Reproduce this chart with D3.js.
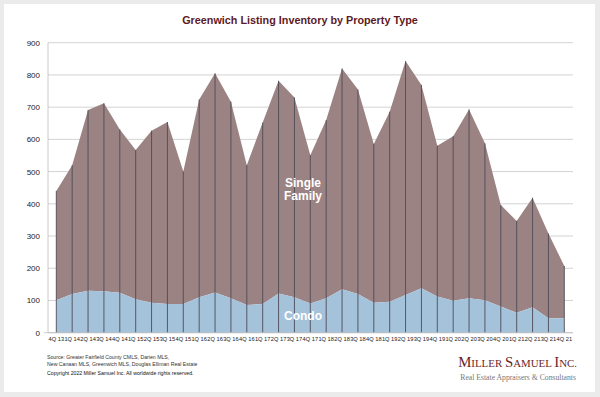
<!DOCTYPE html>
<html>
<head>
<meta charset="utf-8">
<script src="https://cdn.jsdelivr.net/npm/d3@7"></script>
<style>
  body { margin: 0; background: #ebebeb; }
  svg { display: block; font-family: "Liberation Sans", Arial, sans-serif; }
</style>
</head>
<body>
<div id="chart"></div>
<script>
// quarters, 4Q 13 through 4Q 21
var quarters = ["4Q 13","1Q 14","2Q 14","3Q 14","4Q 14","1Q 15","2Q 15","3Q 15","4Q 15",
  "1Q 16","2Q 16","3Q 16","4Q 16","1Q 17","2Q 17","3Q 17","4Q 17",
  "1Q 18","2Q 18","3Q 18","4Q 18","1Q 19","2Q 19","3Q 19","4Q 19",
  "1Q 20","2Q 20","3Q 20","4Q 20","1Q 21","2Q 21","3Q 21","4Q 21"];

// condo listings
var condo = [101,120,130,129,124,104,93,89,89,110,125,107,86,89,122,110,91,
  107,135,120,93,96,117,138,112,99,107,101,81,62,79,45,45];

// total listings (single family stacked on condo)
var total = [440,520,691,712,631,567,627,654,500,724,805,717,520,652,782,730,551,
  660,820,755,586,686,843,769,580,610,693,588,396,347,419,308,207];

var yTicks = [0,100,200,300,400,500,600,700,800,900];

var W = 600, H = 397;
var svg = d3.select("#chart").append("svg")
  .attr("width", W).attr("height", H);

// white panel
svg.append("rect")
  .attr("x", 4).attr("y", 4).attr("width", 591).attr("height", 388)
  .attr("fill", "#fff");

svg.append("text")
  .attr("x", 300).attr("y", 24)
  .attr("text-anchor", "middle")
  .attr("font-size", 10.8).attr("font-weight", "bold")
  .attr("fill", "#5c1a26")
  .text("Greenwich Listing Inventory by Property Type");

var x = d3.scalePoint()
  .domain(quarters)
  .range([56.3, 564.3]);

var y = d3.scaleLinear()
  .domain([0, 900])
  .range([332.7, 42.7]);

// gridlines
svg.append("g")
  .selectAll("line")
  .data(yTicks)
  .enter().append("line")
    .attr("x1", 48).attr("x2", 573)
    .attr("y1", function(d) { return y(d); })
    .attr("y2", function(d) { return y(d); })
    .attr("stroke", "#c8c8c8").attr("stroke-width", 0.8);

// y labels
svg.append("g")
  .selectAll("text")
  .data(yTicks)
  .enter().append("text")
    .attr("x", 40)
    .attr("y", function(d) { return y(d) + 3; })
    .attr("text-anchor", "end")
    .attr("font-size", 8).attr("fill", "#222")
    .text(function(d) { return d; });

var data = quarters.map(function(q, i) {
  return { q: q, condo: condo[i], total: total[i] };
});

var singleArea = d3.area()
  .x(function(d) { return x(d.q); })
  .y0(function(d) { return y(d.condo); })
  .y1(function(d) { return y(d.total); });

var condoArea = d3.area()
  .x(function(d) { return x(d.q); })
  .y0(y(0))
  .y1(function(d) { return y(d.condo); });

svg.append("path").datum(data)
  .attr("d", singleArea)
  .attr("fill", "#9b8283");

svg.append("path").datum(data)
  .attr("d", condoArea)
  .attr("fill", "#a4c2da");

// vertical drop lines at each quarter
svg.append("g")
  .selectAll("line")
  .data(data)
  .enter().append("line")
    .attr("x1", function(d) { return x(d.q); })
    .attr("x2", function(d) { return x(d.q); })
    .attr("y1", y(0))
    .attr("y2", function(d) { return y(d.total); })
    .attr("stroke", "#4e4c58").attr("stroke-width", 0.9);

// axis lines
svg.append("line")
  .attr("x1", 48).attr("x2", 48).attr("y1", y(900)).attr("y2", y(0))
  .attr("stroke", "#bdbdbd").attr("stroke-width", 0.8);
svg.append("line")
  .attr("x1", 44).attr("x2", 573).attr("y1", y(0)).attr("y2", y(0))
  .attr("stroke", "#bdbdbd").attr("stroke-width", 0.8);

// x labels
svg.append("g")
  .selectAll("text")
  .data(quarters)
  .enter().append("text")
    .attr("x", function(d) { return x(d); })
    .attr("y", 341)
    .attr("text-anchor", "middle")
    .attr("font-size", 5.7).attr("fill", "#1a1a1a")
    .text(function(d) { return d; });

// series labels
svg.append("text")
  .attr("x", 303).attr("y", 187)
  .attr("text-anchor", "middle")
  .attr("font-size", 12).attr("font-weight", "bold").attr("fill", "#fff")
  .selectAll("tspan")
  .data(["Single", "Family"])
  .enter().append("tspan")
    .attr("x", 303)
    .attr("dy", function(d, i) { return i ? 12.5 : 0; })
    .text(function(d) { return d; });

svg.append("text")
  .attr("x", 303).attr("y", 320)
  .attr("text-anchor", "middle")
  .attr("font-size", 12).attr("font-weight", "bold").attr("fill", "#fff")
  .text("Condo");

// footer
var foot = svg.append("g").attr("font-size", 5.2).attr("fill", "#333");
foot.append("text").attr("x", 47).attr("y", 358.5)
  .text("Source:  Greater Fairfield County CMLS, Darien MLS,");
foot.append("text").attr("x", 47).attr("y", 365.5)
  .text("New Canaan MLS, Greenwich MLS, Douglas Elliman Real Estate");
foot.append("text").attr("x", 47).attr("y", 374.5)
  .attr("fill", "#111")
  .text("Copyright 2022 Miller Samuel Inc.  All worldwide rights reserved.");

// logo
var logo = svg.append("text")
  .attr("x", 577).attr("y", 367)
  .attr("text-anchor", "end")
  .attr("font-family", "'Liberation Serif', 'DejaVu Serif', serif")
  .attr("fill", "#6b1f2a");
[["M", 14.8], ["ILLER ", 10.9], ["S", 14.8], ["AMUEL ", 10.9], ["I", 14.8], ["NC.", 10.9]]
  .forEach(function(p) {
    logo.append("tspan").attr("font-size", p[1]).text(p[0]);
  });

svg.append("text")
  .attr("x", 576).attr("y", 380)
  .attr("text-anchor", "end")
  .attr("font-family", "'Liberation Serif', 'DejaVu Serif', serif")
  .attr("font-size", 7.7).attr("fill", "#777")
  .text("Real Estate Appraisers & Consultants");
</script>
</body>
</html>
